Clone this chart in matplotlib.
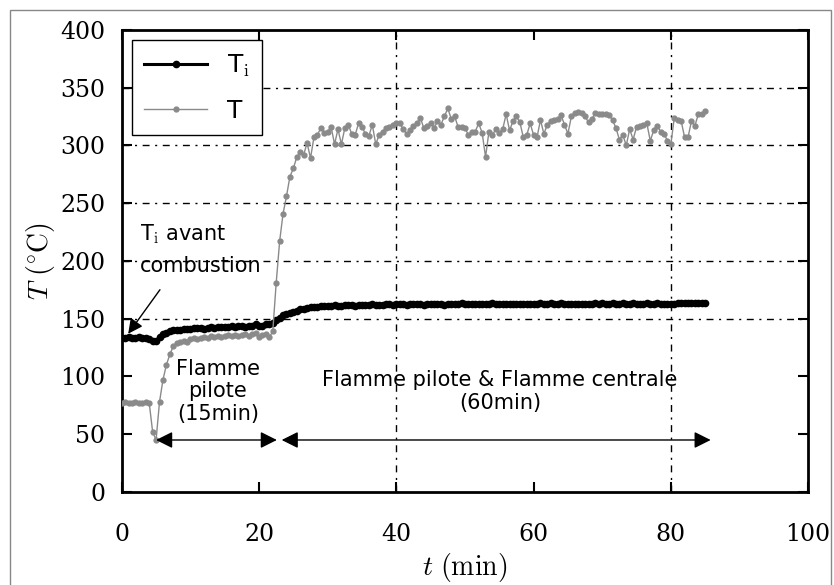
import numpy as np
import matplotlib
matplotlib.use('Agg')
import matplotlib.pyplot as plt
from matplotlib.patches import Rectangle

plt.rcParams['mathtext.fontset'] = 'cm'

# time axis, one sample every 0.5 min
t = np.arange(0, 85.01, 0.5)

# T_i (black)
Ti = [133, 133, 134, 133, 133, 134, 133, 133, 132,
      131, 131, 134, 137, 138, 139, 140, 140,
      140, 141, 141, 141, 142, 142, 142, 141, 142, 143, 142, 143, 143, 143,
      143, 144, 143, 144, 144, 143, 144, 144, 145, 144, 144, 145, 145,
      146, 149, 151, 153, 154, 155, 156, 157, 158, 158, 159, 160,
      160, 160, 161, 161, 161, 161, 162, 161, 161, 162, 162, 162, 161, 162,
      162, 162, 162, 163, 162, 162,
      162, 163, 163, 162, 163, 163, 163, 162, 163, 163, 163, 163, 162, 163,
      163, 163, 163, 163, 162, 163,
      163, 163, 163, 164, 163, 163, 163, 163, 163, 163, 163, 163, 164, 163,
      163, 163, 163, 163, 163, 163,
      163, 163, 163, 163, 163, 163, 164, 163, 163, 164, 163, 163, 164, 163, 163,
      163, 163, 163, 163, 163, 163, 163, 164, 163, 164, 163, 163, 164, 163,
      163, 164, 163, 163, 164, 163, 163, 163, 164, 163, 163, 164, 163, 163,
      163, 163, 163, 164, 164, 164, 164, 164, 164, 164, 164, 164]

# T (gray)
T = [77, 78, 77, 77, 78, 77, 77, 78, 77,
     52, 45, 78, 97, 110, 119, 126, 129,
     130, 131, 130, 132, 133, 132, 133, 134, 133, 135, 134, 135, 134, 135,
     136, 135, 136, 135, 136, 137, 135, 137, 138, 134, 136, 137, 134,
     139, 181, 217, 241, 256, 273, 280, 290, 294, 292, 302, 289,
     307, 309, 315, 311, 312, 316, 301, 314, 301, 315, 318, 310, 309, 319,
     316, 310, 308, 318, 301, 309,
     312, 315, 316, 318, 319, 319, 314, 310, 313, 317, 319, 324, 315, 317,
     319, 315, 321, 318, 325, 332,
     323, 325, 316, 316, 315, 309, 312, 312, 319, 311, 290, 312, 309, 314,
     311, 314, 327, 313, 321, 325,
     320, 307, 309, 319, 309, 307, 322, 310, 318, 321, 322, 323, 326, 318, 310,
     325, 328, 329, 328, 325, 320, 323, 328, 327, 327,
     327, 326, 322, 315, 305, 309, 300, 314, 305, 316, 317, 318, 319, 304,
     313, 317, 312, 310, 304, 301, 324, 322, 321, 307, 307, 321, 317, 327,
     327, 330]

xticks = [0, 20, 40, 60, 80, 100]
yticks = [0, 50, 100, 150, 200, 250, 300, 350, 400]
grid_x = [40, 80]
grid_y = [150, 200, 250, 300, 350]

fig = plt.figure(figsize=(8.34, 5.85), dpi=100)
ax = fig.add_axes([0.146, 0.159, 0.823, 0.790])

gs = (0, (5, 4, 1.5, 4))
for gx in grid_x:
    ax.axvline(gx, color='black', lw=1, ls=gs, zorder=1)
for gy in grid_y:
    ax.axhline(gy, color='black', lw=1, ls=gs, zorder=1)

ax.plot(t, Ti, color='black', marker='o', markersize=4.5, lw=2.2, label=r'T$_\mathrm{i}$', zorder=3)
ax.plot(t, T, color='#8a8a8a', marker='o', markersize=3.5, lw=1, label='T', zorder=3)

ax.set_xlim(0, 100)
ax.set_ylim(0, 400)
ax.set_xticks(xticks)
ax.set_yticks(yticks)
ax.tick_params(direction='in', length=7, width=1.5, top=True, right=True)
ax.tick_params(axis='x', pad=22)
ax.tick_params(axis='y', pad=12)
for lab in ax.get_xticklabels() + ax.get_yticklabels():
    lab.set_family('DejaVu Serif')
    lab.set_fontsize(17)
for s in ax.spines.values():
    s.set_linewidth(2)

ax.set_xlabel(r'$t\ (\mathrm{min})$', fontsize=20, labelpad=4)
ax.set_ylabel(r'$T\ ({}^{\circ}\mathrm{C})$', fontsize=20, labelpad=2)

leg = ax.legend(loc='upper left', fontsize=18, handlelength=2.5, labelspacing=0.8,
                fancybox=False, edgecolor='black', framealpha=1,
                borderaxespad=0.4, borderpad=0.5)
leg.get_frame().set_linewidth(1)

# annotations
ax.text(2.6, 210, 'T$_\\mathrm{i}$ avant\ncombustion', fontsize=15, ha='left', va='center',
        linespacing=1.6)
ax.annotate('', xy=(0.7, 135), xytext=(5.8, 177),
            arrowprops=dict(arrowstyle='-|>', color='black', lw=1, mutation_scale=22))
ax.text(14, 87, 'Flamme\npilote\n(15min)', fontsize=15, ha='center', va='center',
        multialignment='center', linespacing=1.15)
ax.text(55.1, 87, 'Flamme pilote & Flamme centrale\n(60min)', fontsize=15, ha='center',
        va='center', multialignment='center', linespacing=1.15)
ax.annotate('', xy=(5.0, 45), xytext=(22.6, 45),
            arrowprops=dict(arrowstyle='<|-|>', color='black', lw=1, mutation_scale=25,
                            shrinkA=0, shrinkB=0))
ax.annotate('', xy=(23.3, 45), xytext=(85.8, 45),
            arrowprops=dict(arrowstyle='<|-|>', color='black', lw=1, mutation_scale=25,
                            shrinkA=0, shrinkB=0))

# thin frame around the figure
fig.patches.append(Rectangle((0.012, -0.01), 0.985, 0.993, transform=fig.transFigure,
                             fill=False, edgecolor='#888888', lw=1))

fig.savefig('out.png', dpi=100)
